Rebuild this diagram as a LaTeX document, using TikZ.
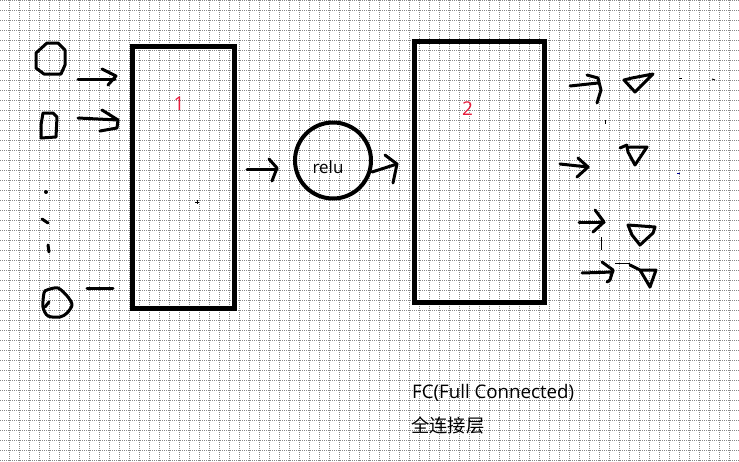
\documentclass[tikz,border=0pt]{standalone}
\usepackage{fontspec}
\setmainfont{Open Sans}
\newfontfamily\cjk{Noto Sans CJK SC}
\definecolor{numred}{RGB}{232,28,60}
\definecolor{gridc}{RGB}{135,135,135}
\begin{document}
\begin{tikzpicture}[x=1pt,y=-1pt,
  gridline/.style={gridc, line width=0.8pt, dash pattern=on 1pt off 1pt},
  layerbox/.style={draw=black, line width=5pt, inner sep=0pt},
  pen/.style={line width=3pt, line cap=round, line join=round},
  thinpen/.style={line width=1pt},
  txt/.style={font=\fontsize{17}{20}\selectfont, inner sep=0pt},
  num/.style={font=\fontsize{19}{22}\selectfont, text=numred, inner sep=0pt}]
\fill[white] (0,0) rectangle (739,461);
\useasboundingbox (0,0) rectangle (739,461);
\foreach \x in {9,19,...,739} \draw[gridline] (\x,0) -- (\x,461);
\foreach \y in {0,10,...,460} \draw[gridline] (0,\y) -- (739,\y);

% layers
\node[layerbox, minimum width=101.5pt, minimum height=262pt] (fc1) at (183.25,177) {};
\node[layerbox, minimum width=130pt, minimum height=261.5pt] (fc2) at (479.5,171.75) {};
\node[circle, draw, line width=4pt, minimum size=76pt, inner sep=0pt] (relu) at (333,160.5) {};
\node[txt, anchor=base] (relutxt) at (328,173) {relu};
\node[num] (n1) at (179,103.5) {1};
\node[num] (n2) at (467.5,108.5) {2};

% inputs
\draw[pen] (47,43)--(58,43)--(65,50)--(65,65)--(61,74)--(44,74)--(36,68)--(36,53)--cycle;
\draw[pen] (43,113)--(53,113)--(57,117)--(56,137)--(41,138)--(41,125)--cycle;
\fill (46,192) circle (2);
\draw[pen] (42,219)--(48,223);
\draw[pen] (48,245)--(49,252);
\draw[pen] plot[smooth cycle, tension=0.5] coordinates {(47,290) (58,288) (68,297) (72,305) (67,313) (60,317) (48,316) (43,307) (44,293)};
\draw[pen] (49,302)--(45,307);
\draw[pen] (87,288)--(113,288);

% input arrows
\draw[pen] (78,79)--(115,79);
\draw[pen] (102,69)--(116,76)--(108,85);
\draw[pen] (78,118)--(118,120);
\draw[pen] (102,110)--(118,120)--(117,128)--(100,131);

% fc1 -> relu
\draw[pen] (247,169)--(277,169);
\draw[pen] (269,159)--(277,168)--(272,181);
\draw[thinpen] (195,202)--(199,202) (197,200)--(197,204);

% relu -> fc2
\draw[pen] (372,172)--(397,164);
\draw[pen] (385,155)--(397,164)--(393,183);

% outputs
\draw[pen] (570,86)--(598,83);
\draw[pen] (587,75)--(598,78)--(601,90)--(597,103);
\draw[pen] (624,80)--(635,92)--(645,82)--(653,74)--(632,78)--cycle;
\draw[thinpen] (679,78)--(682,78);
\draw[thinpen] (712,79)--(715,80);
\draw[thinpen] (605,120)--(605,124);

\draw[pen] (560,164)--(588,167);
\draw[pen] (578,158)--(588,167)--(577,177);
\draw[pen] (620,148)--(627,145);
\draw[pen] (627,147)--(647,147)--(635,165)--(628,152)--cycle;
\draw[thinpen, blue!60!black] (677,173)--(680,173);

\draw[pen] (579,222)--(604,222);
\draw[pen] (595,210)--(604,222)--(593,232);
\draw[thinpen] (601,237)--(601,250);
\draw[pen] (628,225)--(655,227)--(653,233)--(640,245)--(632,235)--cycle;

\draw[pen] (582,273)--(613,272);
\draw[pen] (602,262)--(613,270)--(610,280)--(607,282);
\draw[thinpen] (615,263)--(630,263);
\draw[pen] (630,265)--(640,270)--(656,270)--(650,287)--(640,270);

% captions
\node[anchor=base west, inner sep=0pt, font=\fontsize{18.7}{22}\selectfont] (fc) at (412,398) {FC(Full Connected)};
\node[anchor=base west, inner sep=0pt, font=\cjk\fontsize{18.3}{21}\selectfont] (cn) at (411,432) {全连接层};
\end{tikzpicture}
\end{document}
